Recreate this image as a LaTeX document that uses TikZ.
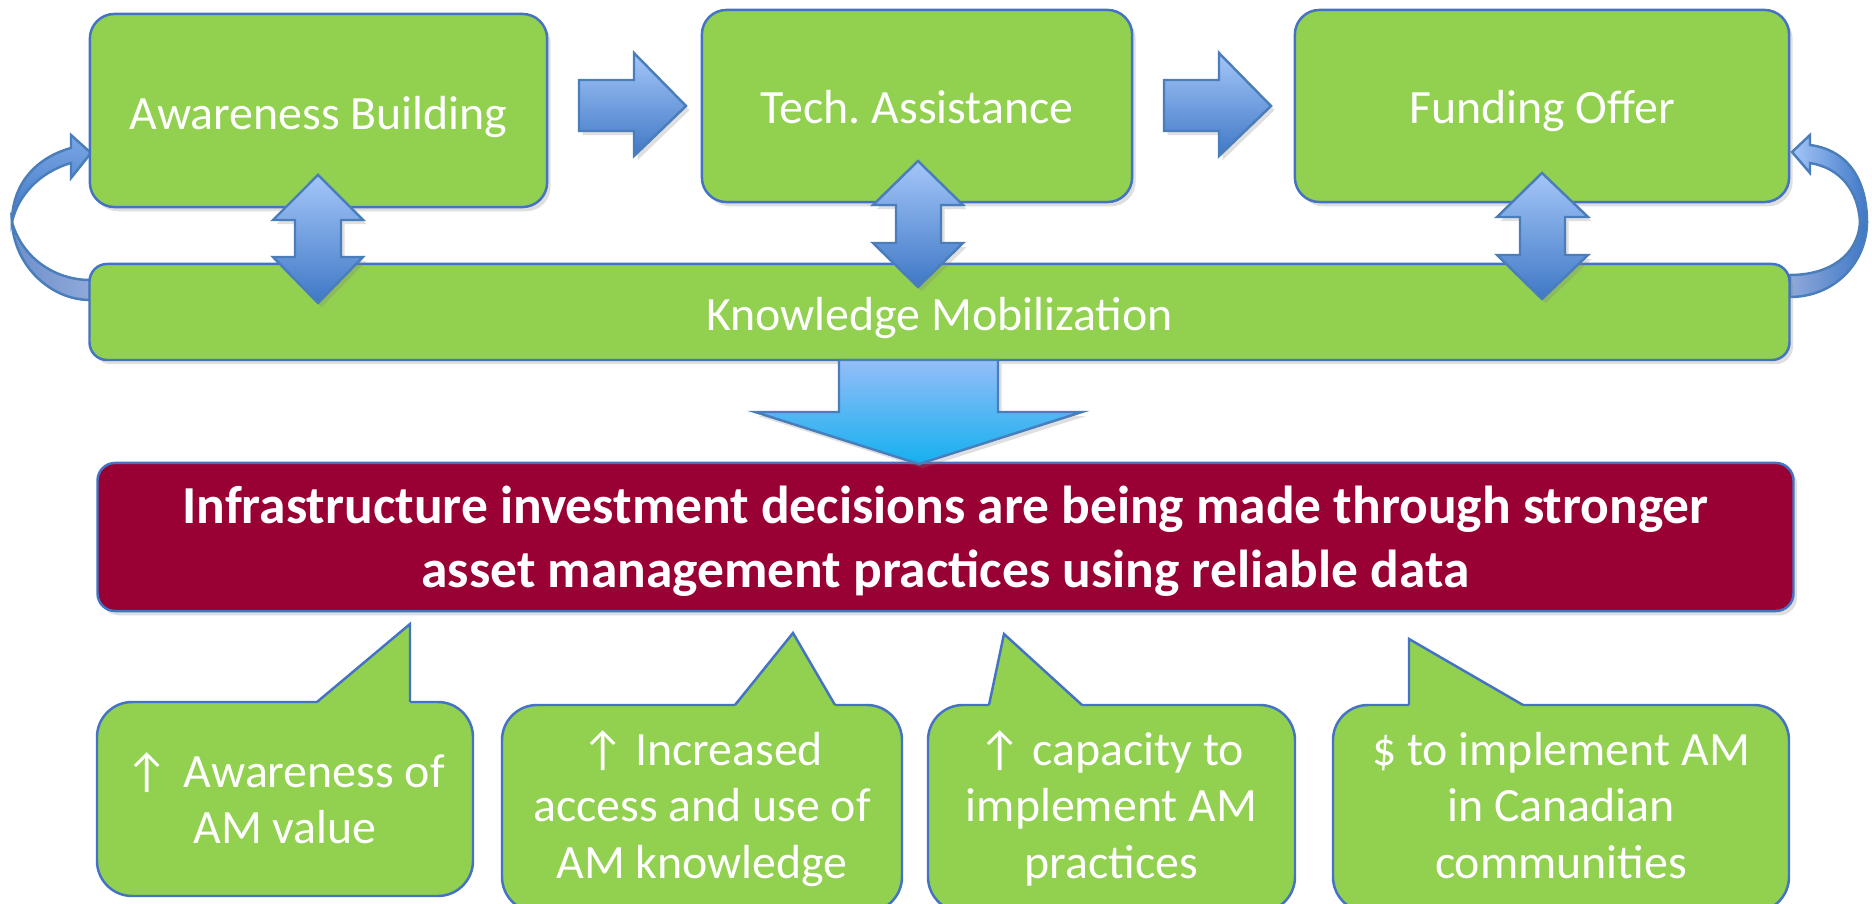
\documentclass[tikz,border=0pt]{standalone}
\usepackage{fontspec}
\setmainfont{Carlito}
\usetikzlibrary{shadows}
\definecolor{boxgreen}{HTML}{92D050}
\definecolor{boxline}{HTML}{4472C4}
\definecolor{goalred}{HTML}{990033}
\definecolor{arrtop}{HTML}{A4C6F8}
\definecolor{arrbot}{HTML}{3F78C6}
\definecolor{arrline}{HTML}{4A7EBB}
\definecolor{downtop}{HTML}{95BDF8}
\definecolor{downbot}{HTML}{14B0F0}
\definecolor{backlt}{HTML}{8FA9DA}
\definecolor{backdk}{HTML}{6F8FCB}
\newcommand\topstrut[1]{\rule{0pt}{#1}}
\newcommand\botstrut[1]{\rule[-#1]{0pt}{#1}}
\begin{document}
\begin{tikzpicture}[x=0.01cm,y=-0.01cm,
  greenbox/.style={draw=boxline, line width=0.7pt, fill=boxgreen, rounded corners=7pt,
    text=white, font=\fontsize{13.6}{16.2}\selectfont, inner sep=0pt, align=center,
    text depth=0pt, drop shadow={shadow xshift=1pt, shadow yshift=-1.2pt, opacity=0.25}},
  callbox/.style={draw=boxline, line width=0.7pt, fill=boxgreen, rounded corners=10pt},
  calltail/.style={draw=boxline, line width=0.7pt},
  calltext/.style={text=white, font=\fontsize{13.6}{16.2}\selectfont, align=center, inner sep=0pt},
  blockarrow/.style={draw=arrline, line width=0.7pt, top color=arrtop, bottom color=arrbot,
    drop shadow={shadow xshift=1pt, shadow yshift=-1.2pt, opacity=0.25}},
  downarrow/.style={draw=arrline, line width=0.7pt, top color=downtop, bottom color=downbot,
    drop shadow={shadow xshift=1pt, shadow yshift=-1.2pt, opacity=0.25}},
  curvefront/.style={draw=arrline, line width=0.7pt},
]
\clip (0,0) rectangle (1872,904);
\fill[white] (0,0) rectangle (1872,904);

% curved arrow left
\path[curvefront, left color=backdk, right color=backlt]
  (12,222) .. controls (14,265) and (50,300) .. (90,300) -- (90,280)
  .. controls (55,280) and (22,258) .. (12,222) -- cycle;
\path[curvefront, top color=arrtop!60!arrbot, bottom color=arrbot]
  (71,163) -- (71,178) -- (91,153) -- (71,135) -- (71,148)
  .. controls (35,158) and (12,185) .. (12,222)
  .. controls (18,195) and (40,172) .. (71,163) -- cycle;

% curved arrow right
\path[curvefront, left color=backlt, right color=arrbot]
  (1867,222) .. controls (1867,262) and (1835,297) .. (1790,297) -- (1790,275)
  .. controls (1830,275) and (1858,255) .. (1860,222) -- cycle;
\path[curvefront, left color=arrtop, right color=arrbot]
  (1810,163) -- (1810,173) -- (1792,152) -- (1810,135) -- (1810,145)
  .. controls (1848,150) and (1867,180) .. (1867,222) -- (1860,222)
  .. controls (1858,190) and (1840,168) .. (1810,163) -- cycle;

% top boxes
\node[greenbox, text height=10.6pt, minimum width=4.57cm, minimum height=1.93cm] (ab) at (318.5,110.5) {Awareness Building};
\node[greenbox, text height=10.2pt, minimum width=4.30cm, minimum height=1.92cm] (ta) at (917,106) {Tech.\ Assistance};
\node[greenbox, text height=10.2pt, minimum width=4.94cm, minimum height=1.92cm] (fo) at (1542,106) {Funding Offer};
\node[greenbox, text height=10.8pt, rounded corners=5pt, minimum width=16.99cm, minimum height=0.96cm] (km) at (939.5,312) {Knowledge Mobilization};

% goal box
\node[draw=boxline, line width=0.7pt, fill=goalred, rounded corners=5pt, minimum width=16.95cm, minimum height=1.48cm,
  text=white, font=\bfseries\fontsize{15.2}{18.2}\selectfont, align=center, inner sep=0pt,
  drop shadow={shadow xshift=1pt, shadow yshift=-1.2pt, opacity=0.25}] (goal) at (945.5,537)
  {\topstrut{14.4pt}Infrastructure investment decisions are being made through stronger\\asset management practices using reliable data\botstrut{3.8pt}};

% right block arrows
\path[blockarrow] (579,80) -- (634,80) -- (634,53) -- (686,106) -- (634,156) -- (634,131) -- (579,131) -- cycle;
\path[blockarrow] (1164,80) -- (1219,80) -- (1219,53) -- (1271,106) -- (1219,156) -- (1219,131) -- (1164,131) -- cycle;

% up-down arrows
\path[blockarrow] (318,175) -- (363,220) -- (341,220) -- (341,257) -- (363,257) -- (318,303) -- (273,257) -- (295,257) -- (295,220) -- (273,220) -- cycle;
\path[blockarrow] (918,161) -- (963,205) -- (941,205) -- (941,243) -- (963,243) -- (918,287) -- (873,243) -- (896,243) -- (896,205) -- (873,205) -- cycle;
\path[blockarrow] (1542,173) -- (1588,217) -- (1565,217) -- (1565,255) -- (1588,255) -- (1542,299) -- (1497,255) -- (1520,255) -- (1520,217) -- (1497,217) -- cycle;

% down arrow
\path[downarrow] (839,360) -- (998,360) -- (998,412) -- (1082,412) -- (919,464) -- (755,412) -- (839,412) -- cycle;

% callout 1
\path[callbox] (97,702) rectangle (473,896);
\fill[boxgreen] (317,702) -- (410,624) -- (410,705) -- (317,705) -- cycle;
\draw[calltail] (317,702) -- (410,624) -- (410,702);
\node[calltext] (c1) at (285,815.5) {\topstrut{12pt}↑\hspace{1.2pt} Awareness of\\AM value\botstrut{12pt}};

% callout 2
\path[callbox] (502,705) rectangle (902,912);
\fill[boxgreen] (735,705) -- (793,633) -- (835,705) -- (835,708) -- (735,708) -- cycle;
\draw[calltail] (735,705) -- (793,633) -- (835,705);
\node[calltext] (c2) at (702,822) {\topstrut{12pt}↑ Increased\\access and use of\\AM knowledge\botstrut{12pt}};

% callout 3
\path[callbox] (928,705) rectangle (1295,912);
\fill[boxgreen] (989,705) -- (1004,634) -- (1082,705) -- (1082,708) -- (989,708) -- cycle;
\draw[calltail] (989,705) -- (1004,634) -- (1082,705);
\node[calltext] (c3) at (1111.5,822) {\topstrut{12pt}↑ capacity to\\implement AM\\practices\botstrut{12pt}};

% callout 4
\path[callbox] (1333,705) rectangle (1789,912);
\fill[boxgreen] (1409,705) -- (1409,639) -- (1523,705) -- (1523,708) -- (1409,708) -- cycle;
\draw[calltail] (1409,705) -- (1409,639) -- (1523,705);
\node[calltext] (c4) at (1561,822) {\topstrut{12pt}\$ to implement AM\\in Canadian\\communities\botstrut{12pt}};
\end{tikzpicture}
\end{document}
